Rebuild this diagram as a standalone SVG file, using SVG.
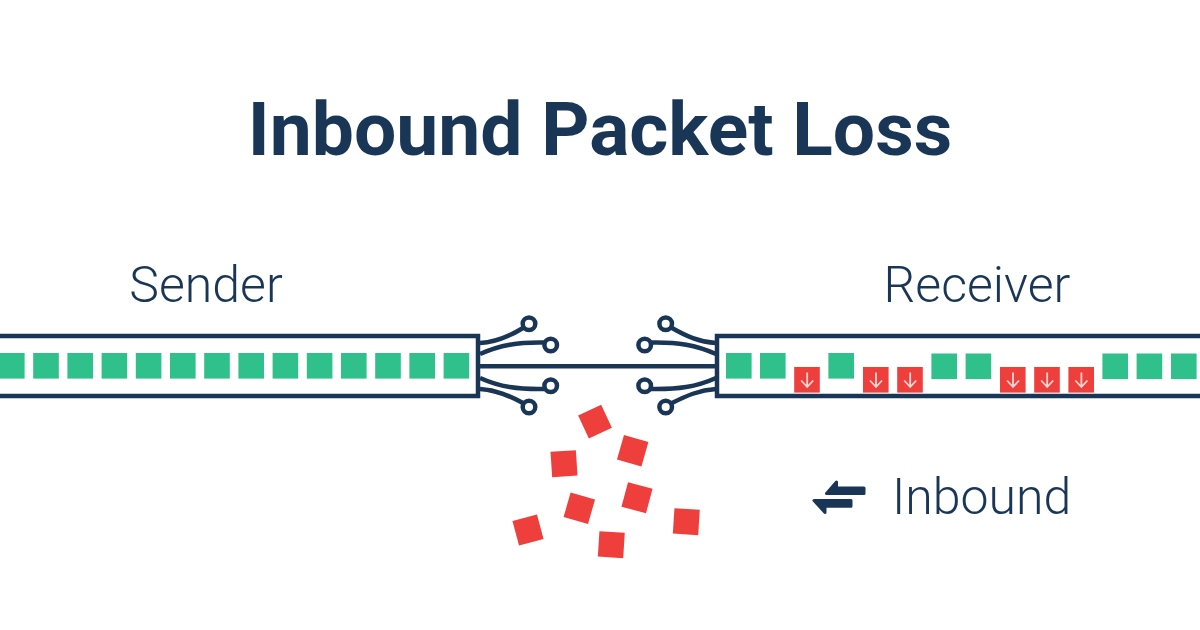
<svg xmlns="http://www.w3.org/2000/svg" width="1200" height="630" viewBox="0 0 1200 630">
<style>
text{font-family:Roboto,"Liberation Sans",sans-serif;fill:#1a3657}
.title{font-size:75px;font-weight:700}
.label{font-size:50px;font-weight:300}
.tube{fill:#fff;stroke:#1a3657;stroke-width:4.500}
.wire{fill:none;stroke:#1a3657;stroke-width:4.500}
.port{fill:#fff;stroke:#1a3657;stroke-width:4.500}
.g{fill:#2fc08c}
.r{fill:#ee3f3d}
.a{fill:none;stroke:#f6d8d4;stroke-width:1.800}
.h{fill:#1a3657;stroke:#1a3657;stroke-width:3;stroke-linejoin:round}
</style>
<defs>
<rect id="gs" class="g" width="25.6" height="25.6"/>
<g id="rs"><rect class="r" width="25.6" height="25.6"/><path class="a" d="M13 5.500V20M7 13.500L13 20L19 13.500"/></g>
<rect id="ls" class="r" x="-12.7" y="-12.7" width="25.4" height="25.4"/>
</defs>
<text class="title" x="600" y="154.500" text-anchor="middle">Inbound Packet Loss</text>
<g id="sender">
<rect class="tube" x="-10" y="336" width="488" height="60"/>
<use href="#gs" x="-1" y="353"/><use href="#gs" x="33.2" y="353"/><use href="#gs" x="67.4" y="353"/><use href="#gs" x="101.6" y="353"/><use href="#gs" x="135.8" y="353"/><use href="#gs" x="170" y="353"/><use href="#gs" x="204.2" y="353"/><use href="#gs" x="238.4" y="353"/><use href="#gs" x="272.6" y="353"/><use href="#gs" x="306.8" y="353"/><use href="#gs" x="341" y="353"/><use href="#gs" x="375.2" y="353"/><use href="#gs" x="409.4" y="353"/><use href="#gs" x="443.6" y="353"/>
<text class="label" x="206" y="302" text-anchor="middle">Sender</text>
</g>
<g id="receiver">
<rect class="tube" x="717" y="336" width="493" height="60"/>
<use href="#gs" x="726" y="353"/><use href="#gs" x="760" y="353"/><use href="#rs" x="794.2" y="367"/><use href="#gs" x="828.4" y="353"/><use href="#rs" x="863" y="367"/><use href="#rs" x="897.2" y="367"/><use href="#gs" x="931.4" y="353.500"/><use href="#gs" x="965.6" y="353.500"/><use href="#rs" x="1000" y="367"/><use href="#rs" x="1034.2" y="367"/><use href="#rs" x="1068.4" y="367"/><use href="#gs" x="1102.4" y="353.500"/><use href="#gs" x="1136.6" y="353.500"/><use href="#gs" x="1171" y="353.500"/>
<text class="label" x="977" y="302" text-anchor="middle">Receiver</text>
</g>
<g id="connectors">
<path class="wire" d="M480 366.200H716"/>
<path class="wire" d="M480 343C497 342 510 336 523 328M480 354C500 345 518 342 544 342.500M480 378C500 387 518 389.500 544 389M480 389C497 390 510 396 523 403"/>
<path class="wire" d="M716 343C699 342 686 336 672 328M716 354C696 345 678 342 651 342.500M716 378C696 387 678 389.500 651 389M716 389C699 390 686 396 672 403"/>
</g>
<g id="port-l1"><circle class="port" cx="529" cy="323.700" r="6.300"/></g>
<g id="port-l2"><circle class="port" cx="550.700" cy="345" r="6.300"/></g>
<g id="port-l3"><circle class="port" cx="550.700" cy="385.700" r="6.300"/></g>
<g id="port-l4"><circle class="port" cx="529" cy="407" r="6.300"/></g>
<g id="port-r1"><circle class="port" cx="665.700" cy="323.700" r="6.300"/></g>
<g id="port-r2"><circle class="port" cx="644.700" cy="345" r="6.300"/></g>
<g id="port-r3"><circle class="port" cx="644.700" cy="385.700" r="6.300"/></g>
<g id="port-r4"><circle class="port" cx="665.700" cy="407" r="6.300"/></g>
<g id="lost-packets">
<use href="#ls" transform="translate(595 421.700) rotate(-25)"/>
<use href="#ls" transform="translate(632.700 450.700) rotate(16)"/>
<use href="#ls" transform="translate(564 463.700) rotate(-3.700)"/>
<use href="#ls" transform="translate(579.300 508.300) rotate(16)"/>
<use href="#ls" transform="translate(637 497.700) rotate(15)"/>
<use href="#ls" transform="translate(528 530) rotate(-15)"/>
<use href="#ls" transform="translate(686.300 521.700) rotate(3.700)"/>
<use href="#ls" transform="translate(611.300 544.700) rotate(3.700)"/>
</g>
<g id="legend">
<path class="h" d="M836.500 482L826.500 493.500H864V488H836.500Z"/>
<path class="h" d="M814 500.500H851V506.200H825V512.500Z"/>
<text class="label" x="892" y="514.300">Inbound</text>
</g>
</svg>
